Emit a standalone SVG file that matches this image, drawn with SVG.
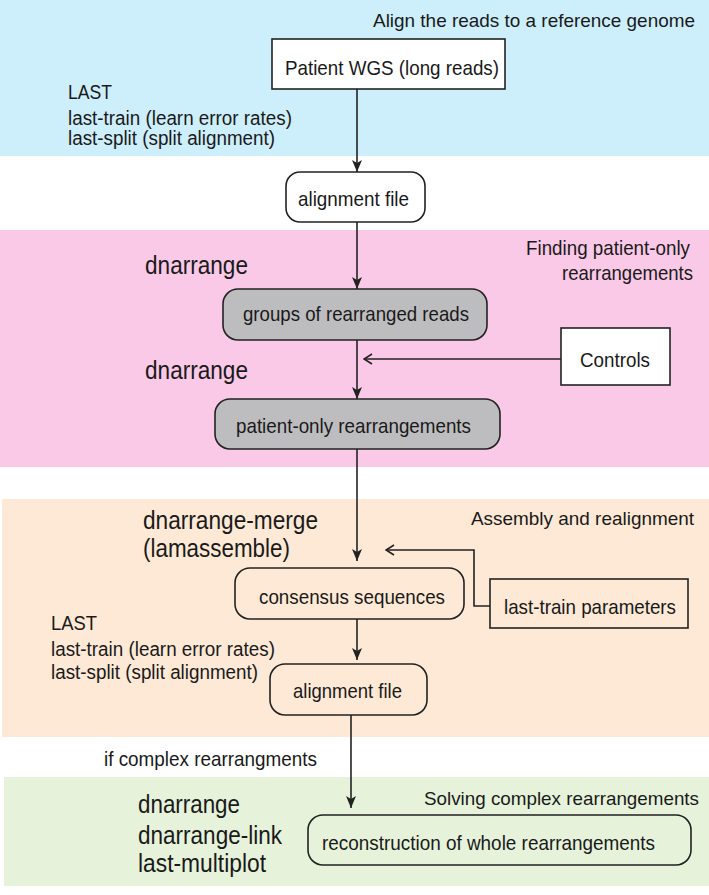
<svg xmlns="http://www.w3.org/2000/svg" width="709" height="895" viewBox="0 0 709 895">
<style>
text{font-family:"Liberation Sans",Arial,sans-serif;font-size:21px;fill:#1a1a1a}
.big{font-size:25px}
.sm{font-size:20px}
.hd{font-size:19px}
.r{text-anchor:end}
.box{fill:#fff;stroke:#222;stroke-width:1.6}
.gray{fill:#bdbdbf;stroke:#222;stroke-width:1.6}
.ob{fill:none;stroke:#222;stroke-width:1.6}
.ln{fill:none;stroke:#222;stroke-width:1.6}
</style>
<defs>
<marker id="ah" viewBox="0 0 12 10" refX="12" refY="5" markerWidth="12" markerHeight="10" markerUnits="userSpaceOnUse" orient="auto">
<path d="M0,0 L12,5 L0,10 L3,5 Z" fill="#222"/>
</marker>
<marker id="oh" viewBox="0 0 10 12" refX="9" refY="6" markerWidth="10" markerHeight="12" markerUnits="userSpaceOnUse" orient="auto">
<path d="M1,1 L9,6 L1,11" fill="none" stroke="#222" stroke-width="1.6"/>
</marker>
</defs>
<g id="bands">
<rect x="0" y="0" width="709" height="156" fill="#cdeefb"/>
<rect x="0" y="230" width="709" height="237" fill="#f9c9e7"/>
<rect x="2" y="499" width="707" height="238" fill="#fde9d6"/>
<rect x="4" y="777" width="705" height="109" fill="#e6f3da"/>
</g>
<g id="labels">
<text class="r hd" x="695" y="27" textLength="322" lengthAdjust="spacingAndGlyphs">Align the reads to a reference genome</text>
<text x="68" y="98.5" textLength="44" lengthAdjust="spacingAndGlyphs">LAST</text>
<text class="sm" x="68" y="124.5" textLength="224" lengthAdjust="spacingAndGlyphs">last-train (learn error rates)</text>
<text class="sm" x="68" y="144.5" textLength="207" lengthAdjust="spacingAndGlyphs">last-split (split alignment)</text>
<text class="r" x="690" y="254.5" textLength="164" lengthAdjust="spacingAndGlyphs">Finding patient-only</text>
<text class="r" x="693" y="279.5" textLength="131" lengthAdjust="spacingAndGlyphs">rearrangements</text>
<text class="big" x="145" y="274" textLength="103" lengthAdjust="spacingAndGlyphs">dnarrange</text>
<text class="big" x="145" y="379" textLength="103" lengthAdjust="spacingAndGlyphs">dnarrange</text>
<text class="big" x="143" y="529" textLength="175" lengthAdjust="spacingAndGlyphs">dnarrange-merge</text>
<text class="big" x="143" y="557" textLength="147" lengthAdjust="spacingAndGlyphs">(lamassemble)</text>
<text class="r hd" x="694" y="525" textLength="223" lengthAdjust="spacingAndGlyphs">Assembly and realignment</text>
<text x="51" y="629.5" textLength="46" lengthAdjust="spacingAndGlyphs">LAST</text>
<text class="sm" x="51" y="655.5" textLength="224" lengthAdjust="spacingAndGlyphs">last-train (learn error rates)</text>
<text class="sm" x="51" y="678.5" textLength="207" lengthAdjust="spacingAndGlyphs">last-split (split alignment)</text>
<text x="104" y="765.5" textLength="213" lengthAdjust="spacingAndGlyphs">if complex rearrangments</text>
<text class="r hd" x="699" y="805" textLength="275" lengthAdjust="spacingAndGlyphs">Solving complex rearrangements</text>
<text class="big" x="138" y="813" textLength="102" lengthAdjust="spacingAndGlyphs">dnarrange</text>
<text class="big" x="138" y="844" textLength="144" lengthAdjust="spacingAndGlyphs">dnarrange-link</text>
<text class="big" x="138" y="872" textLength="128" lengthAdjust="spacingAndGlyphs">last-multiplot</text>
</g>
<g id="connectors">
<line class="ln" x1="357" y1="89" x2="357" y2="172" marker-end="url(#ah)"/>
<line class="ln" x1="357" y1="222" x2="357" y2="289" marker-end="url(#ah)"/>
<line class="ln" x1="357" y1="340" x2="357" y2="399" marker-end="url(#ah)"/>
<line class="ln" x1="561" y1="359" x2="364" y2="359" marker-end="url(#oh)"/>
<line class="ln" x1="357" y1="449" x2="357" y2="561" marker-end="url(#ah)"/>
<polyline class="ln" points="490,606 474,606 474,550 386,550" marker-end="url(#oh)"/>
<line class="ln" x1="357" y1="619" x2="357" y2="660" marker-end="url(#ah)"/>
<line class="ln" x1="351" y1="715" x2="351" y2="808" marker-end="url(#ah)"/>
</g>
<g id="patient-wgs">
<rect class="box" x="272" y="39" width="233" height="50"/>
<text x="285" y="74.5" textLength="214" lengthAdjust="spacingAndGlyphs">Patient WGS (long reads)</text>
</g>
<g id="alignment-file-1">
<rect class="box" x="286" y="172" width="139" height="50" rx="14"/>
<text x="298" y="205.5" textLength="111" lengthAdjust="spacingAndGlyphs">alignment file</text>
</g>
<g id="groups">
<rect class="gray" x="223" y="289" width="264" height="51" rx="15"/>
<text x="243" y="320.5" textLength="226" lengthAdjust="spacingAndGlyphs">groups of rearranged reads</text>
</g>
<g id="controls">
<rect class="box" x="561" y="328" width="109" height="57"/>
<text x="580" y="366.5" textLength="70" lengthAdjust="spacingAndGlyphs">Controls</text>
</g>
<g id="patient-only">
<rect class="gray" x="215" y="399" width="285" height="50" rx="15"/>
<text x="236" y="432.5" textLength="235" lengthAdjust="spacingAndGlyphs">patient-only rearrangements</text>
</g>
<g id="consensus">
<rect class="ob" x="235" y="568" width="229" height="51" rx="15"/>
<text x="259" y="603.5" textLength="186" lengthAdjust="spacingAndGlyphs">consensus sequences</text>
</g>
<g id="last-train-params">
<rect class="ob" x="490" y="579" width="198" height="49"/>
<text x="504" y="613.5" textLength="172" lengthAdjust="spacingAndGlyphs">last-train parameters</text>
</g>
<g id="alignment-file-2">
<rect class="ob" x="270" y="664" width="157" height="51" rx="15"/>
<text x="293" y="697.5" textLength="109" lengthAdjust="spacingAndGlyphs">alignment file</text>
</g>
<g id="reconstruction">
<rect class="ob" x="308" y="815" width="383" height="50" rx="15"/>
<text x="322" y="849.5" textLength="333" lengthAdjust="spacingAndGlyphs">reconstruction of whole rearrangements</text>
</g>
</svg>
